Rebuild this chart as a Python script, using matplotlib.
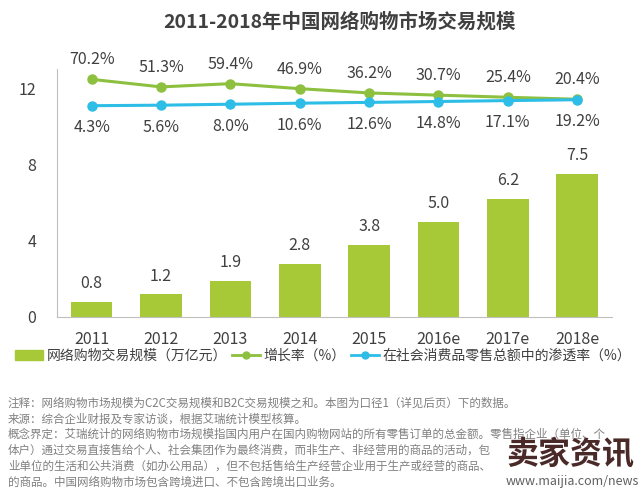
import matplotlib
matplotlib.use("Agg")
import matplotlib.pyplot as plt
from matplotlib.patches import Patch
from matplotlib.lines import Line2D

plt.rcParams['font.family'] = ['Noto Sans CJK SC', 'DejaVu Sans']

years = ["2011", "2012", "2013", "2014", "2015", "2016e", "2017e", "2018e"]
scale = [0.8, 1.2, 1.9, 2.8, 3.8, 5.0, 6.2, 7.5]
growth = [70.2, 51.3, 59.4, 46.9, 36.2, 30.7, 25.4, 20.4]
share = [4.3, 5.6, 8.0, 10.6, 12.6, 14.8, 17.1, 19.2]

barColor = "#a7c937"
greenColor = "#8dc03f"
blueColor = "#2dbde6"
textColor = "#404040"

# the end of lines 4 and 5 is hidden under the watermark in the picture
notes = [
    "注释：网络购物市场规模为C2C交易规模和B2C交易规模之和。本图为口径1（详见后页）下的数据。",
    "来源：综合企业财报及专家访谈，根据艾瑞统计模型核算。",
    "概念界定：艾瑞统计的网络购物市场规模指国内用户在国内购物网站的所有零售订单的总金额。零售指企业（单位、个",
    "体户）通过交易直接售给个人、社会集团作为最终消费，而非生产、非经营用的商品的活动，包",
    "业单位的生活和公共消费（如办公用品），但不包括售给生产经营企业用于生产或经营的商品、",
    "的商品。中国网络购物市场包含跨境进口、不包含跨境出口业务。",
]

fig = plt.figure(figsize=(6.4, 4.92), dpi=100)
ax = fig.add_axes([0.089, 0.3557, 0.867, 0.504])
x = list(range(len(years)))

ax.bar(x, scale, width=0.6, color=barColor, zorder=2)
for i, v in enumerate(scale):
    ax.annotate(f"{v:.1f}", (i, v), xytext=(0, 13), textcoords="offset points",
                ha="center", va="center", fontsize=11.5, color=textColor)

ax.set_xlim(-0.5, len(years) - 0.5)
ax.set_ylim(0, 13)
ax.set_yticks([0, 4, 8, 12])
ax.set_xticks(x)
ax.set_xticklabels(years)
ax.tick_params(axis="both", length=0, labelsize=11.5, colors=textColor)
ax.tick_params(axis="y", pad=15)
ax.tick_params(axis="x", pad=10)
ax.spines["top"].set_visible(False)
ax.spines["right"].set_visible(False)
ax.spines["left"].set_color("#bfbfbf")
ax.spines["bottom"].set_color("#bfbfbf")

# percentage lines on a hidden secondary axis
ax2 = ax.twinx()
ax2.set_ylim(-524, 96)
ax2.axis("off")
ax2.plot(x, growth, color=greenColor, linewidth=2.2, marker="o", markersize=6.5, zorder=3)
ax2.plot(x, share, color=blueColor, linewidth=2.2, marker="o", markersize=6.5, zorder=4)
for i in x:
    ax2.annotate(f"{growth[i]:.1f}%", (i, growth[i]), xytext=(0, 14), textcoords="offset points",
                 ha="center", va="center", fontsize=11.5, color=textColor)
    ax2.annotate(f"{share[i]:.1f}%", (i, share[i]), xytext=(0, -16), textcoords="offset points",
                 ha="center", va="center", fontsize=11.5, color=textColor)

fig.text(0.53, 1 - 22 / 492, "2011-2018年中国网络购物市场交易规模", ha="center", va="center",
         fontsize=14, fontweight="bold", color=textColor)

handles = [
    Patch(color=barColor),
    Line2D([], [], color=greenColor, linewidth=2, marker="o", markersize=5),
    Line2D([], [], color=blueColor, linewidth=2, marker="o", markersize=5),
]
labels = ["网络购物交易规模（万亿元）", "增长率（%）", "在社会消费品零售总额中的渗透率（%）"]
fig.legend(handles, labels, loc="center", bbox_to_anchor=(0.505, 1 - 356 / 492), ncol=3,
           frameon=False, fontsize=10, handlelength=2.0, handletextpad=0.25, columnspacing=0.4,
           labelcolor=textColor)

for k, line in enumerate(notes):
    fig.text(8 / 640, 1 - (403 + k * 15.8) / 492, line, ha="left", va="center",
             fontsize=8.3, color="#808080")

fig.text(570 / 640, 1 - 455 / 492, "卖家资讯", ha="center", va="center", fontsize=23,
         fontweight="bold", color="#4a2a28")
fig.text(572 / 640, 1 - 482 / 492, "www.maijia.com/news", ha="center", va="center",
         fontsize=9, color="#606060")

fig.savefig("out.png", dpi=100)
